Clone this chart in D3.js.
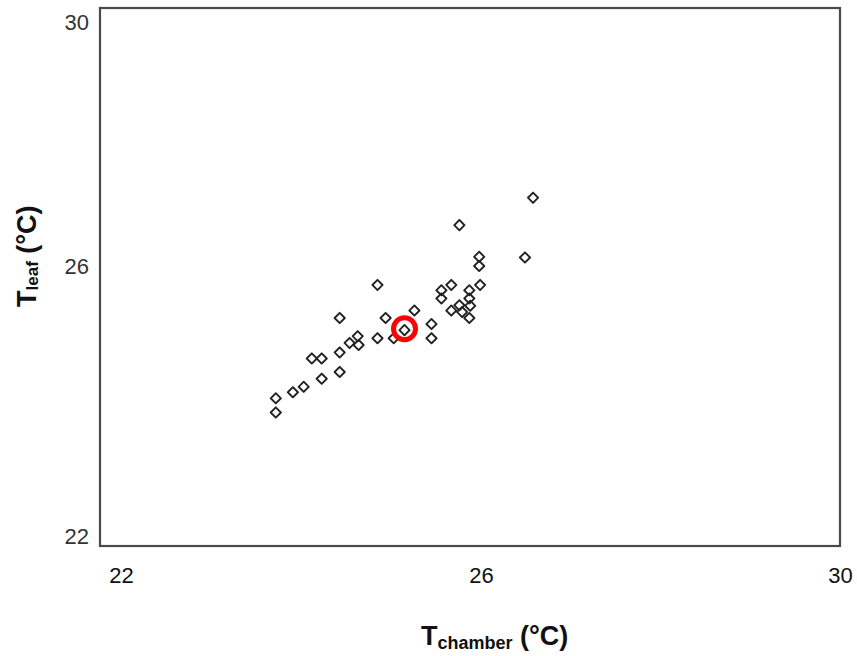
<!DOCTYPE html>
<html>
<head>
<meta charset="utf-8">
<script src="https://cdn.jsdelivr.net/npm/d3@7"></script>
<style>
  html, body { margin: 0; padding: 0; background: #fff; }
  svg { display: block; }
  text { font-family: "Liberation Sans", Arial, sans-serif; }
</style>
</head>
<body>
<svg id="chart" width="857" height="656"></svg>
<script>
// ---- data ----
const tickValues = [22, 26, 30];
const tickLabels = ["22", "26", "30"];
const tChamber = [26.58, 25.76, 25.98, 25.98, 26.49, 24.85, 25.56, 25.67, 25.87, 25.99,
                  25.56, 25.87, 25.76, 25.88, 25.67, 25.79, 25.87, 24.43, 24.94, 25.26,
                  25.45, 25.45, 25.15, 25.03, 24.85, 24.63, 24.54, 24.64, 24.43, 24.23,
                  24.12, 24.43, 24.23, 24.03, 23.91, 23.72, 23.72];
const tLeaf    = [27.12, 26.67, 26.15, 26.00, 26.14, 25.72, 25.64, 25.72, 25.64, 25.72,
                  25.52, 25.52, 25.42, 25.41, 25.34, 25.32, 25.23, 25.23, 25.23, 25.34,
                  25.14, 24.93, 25.05, 24.93, 24.93, 24.96, 24.86, 24.83, 24.72, 24.63,
                  24.63, 24.43, 24.33, 24.21, 24.13, 24.04, 23.83];
const highlightX = [25.15];
const highlightY = [25.07];

// ---- layout ----
const frame = { left: 100, top: 8, right: 840, bottom: 546 };
const svg = d3.select("#chart");

const x = d3.scaleLinear().domain(tickValues).range([121, 481, 840]);
const y = d3.scaleLinear().domain(tickValues).range([536, 266, 22]);

// frame
svg.append("rect")
  .attr("x", frame.left).attr("y", frame.top)
  .attr("width", frame.right - frame.left).attr("height", frame.bottom - frame.top)
  .attr("fill", "#fff").attr("stroke", "#4a4a4a").attr("stroke-width", 2.2);

// x axis
const gx = svg.append("g").attr("transform", `translate(0,${frame.bottom})`)
  .call(d3.axisBottom(x).tickValues(tickValues).tickFormat((d, i) => tickLabels[i]).tickSize(0).tickPadding(21));
gx.select(".domain").remove();
gx.selectAll("text").attr("font-size", 22).attr("fill", "#111")
  .style("font-family", '"Liberation Sans", Arial, sans-serif');

// y axis
const gy = svg.append("g").attr("transform", `translate(${frame.left},0)`)
  .call(d3.axisLeft(y).tickValues(tickValues).tickFormat((d, i) => tickLabels[i]).tickSize(0).tickPadding(11));
gy.select(".domain").remove();
gy.selectAll("text").attr("font-size", 22).attr("fill", "#333")
  .style("font-family", '"Liberation Sans", Arial, sans-serif');

// points: open diamonds
const pts = tChamber.map((v, i) => ({ x: v, y: tLeaf[i] }));
const diamond = d3.symbol().type(d3.symbolSquare).size(52);
svg.append("g").selectAll("path").data(pts).join("path")
  .attr("d", diamond)
  .attr("transform", d => `translate(${x(d.x)},${y(d.y)}) rotate(45)`)
  .attr("fill", "none").attr("stroke", "#222").attr("stroke-width", 1.9)
  .attr("stroke-linejoin", "round");

// highlighted point: red ring
svg.append("g").selectAll("circle").data(highlightX.map((v, i) => ({ x: v, y: highlightY[i] })))
  .join("circle")
  .attr("cx", d => x(d.x)).attr("cy", d => y(d.y)).attr("r", 11)
  .attr("fill", "none").attr("stroke", "#ff0000").attr("stroke-width", 5);

// x title
const xt = svg.append("text").attr("x", 421).attr("y", 645)
  .attr("font-weight", "bold").attr("font-size", 27).attr("fill", "#111");
xt.append("tspan").text("T");
xt.append("tspan").attr("font-size", 18).attr("dy", 4).text("chamber");
xt.append("tspan").attr("dy", -4).text(" (°C)");

// y title
const yt = svg.append("text").attr("transform", "translate(36,307) rotate(-90)")
  .attr("font-weight", "bold").attr("font-size", 27).attr("fill", "#111");
yt.append("tspan").text("T");
yt.append("tspan").attr("font-size", 17).attr("dy", 2).text("leaf");
yt.append("tspan").attr("dy", -2).text(" (°C)");
</script>
</body>
</html>
